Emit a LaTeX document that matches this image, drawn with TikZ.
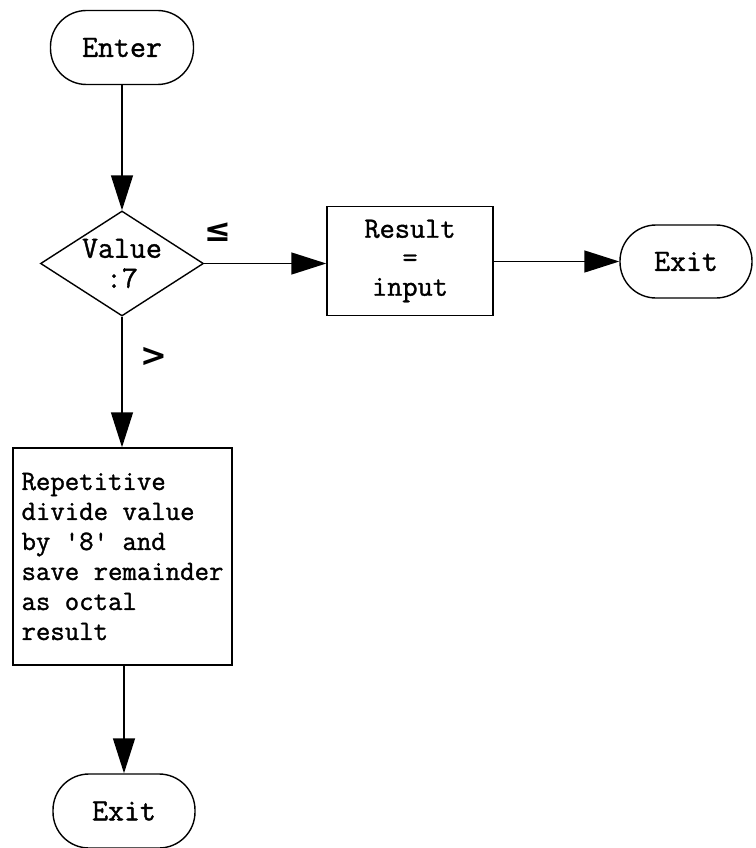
\documentclass[tikz,border=0pt]{standalone}
\usepackage{fontspec}
\newfontfamily\symfont{DejaVu Sans}
\newfontfamily\typew{Latin Modern Mono}[FakeBold=1.2]
\usetikzlibrary{arrows.meta,shapes.geometric}
\begin{document}
\begin{tikzpicture}[x=1pt,y=-1pt,line width=1.4pt,
  tt/.style={font=\typew\fontsize{31}{30}\selectfont},
  term/.style={tt,draw,rounded corners=36pt,minimum height=74pt,inner sep=0pt},
  procbox/.style={tt,draw,inner sep=0pt},
  decision/.style={draw,diamond,inner sep=0pt,minimum width=163pt,minimum height=105pt},
  flow/.style={-{Triangle[length=35pt,width=22pt]}},
  branchmark/.style={font=\symfont\bfseries\fontsize{32}{32}\selectfont}]
\useasboundingbox (0,0) rectangle (755,848);
\node[term,minimum width=143pt] (enter) at (122,47.5) {Enter};
\node[decision] (dec) at (122,263.5) {};
\node[tt,align=center] (dectext) at (dec.center) {Value\\:7};
\node[procbox,align=center,font=\typew\fontsize{29.5}{29}\selectfont,minimum width=166pt,minimum height=109pt] (res) at (410,261) {Result\\=\\input};
\node[term,minimum width=132pt,minimum height=73pt] (exit1) at (686,261.5) {Exit};
\node[procbox,align=left,font=\typew\fontsize{28}{30}\selectfont,minimum width=219pt,minimum height=217pt] (rep) at (122.5,556.5) {Repetitive\\divide value\\by '8' and\\save remainder\\as octal\\result};
\node[term,minimum width=142pt] (exit2) at (124,811) {Exit};
\node[branchmark] (le) at (218,232) {≤};
\node[branchmark] (gt) at (154,357) {>};
\draw[flow] (enter.south) -- (dec.north);
\draw[flow] (dec.east) -- (res.west |- dec.east);
\draw[flow] (res.east |- exit1.west) -- (exit1.west);
\draw[flow] (dec.south) -- (rep.north -| dec.south);
\draw[flow] (rep.south -| exit2.north) -- (exit2.north);
\end{tikzpicture}
\end{document}
